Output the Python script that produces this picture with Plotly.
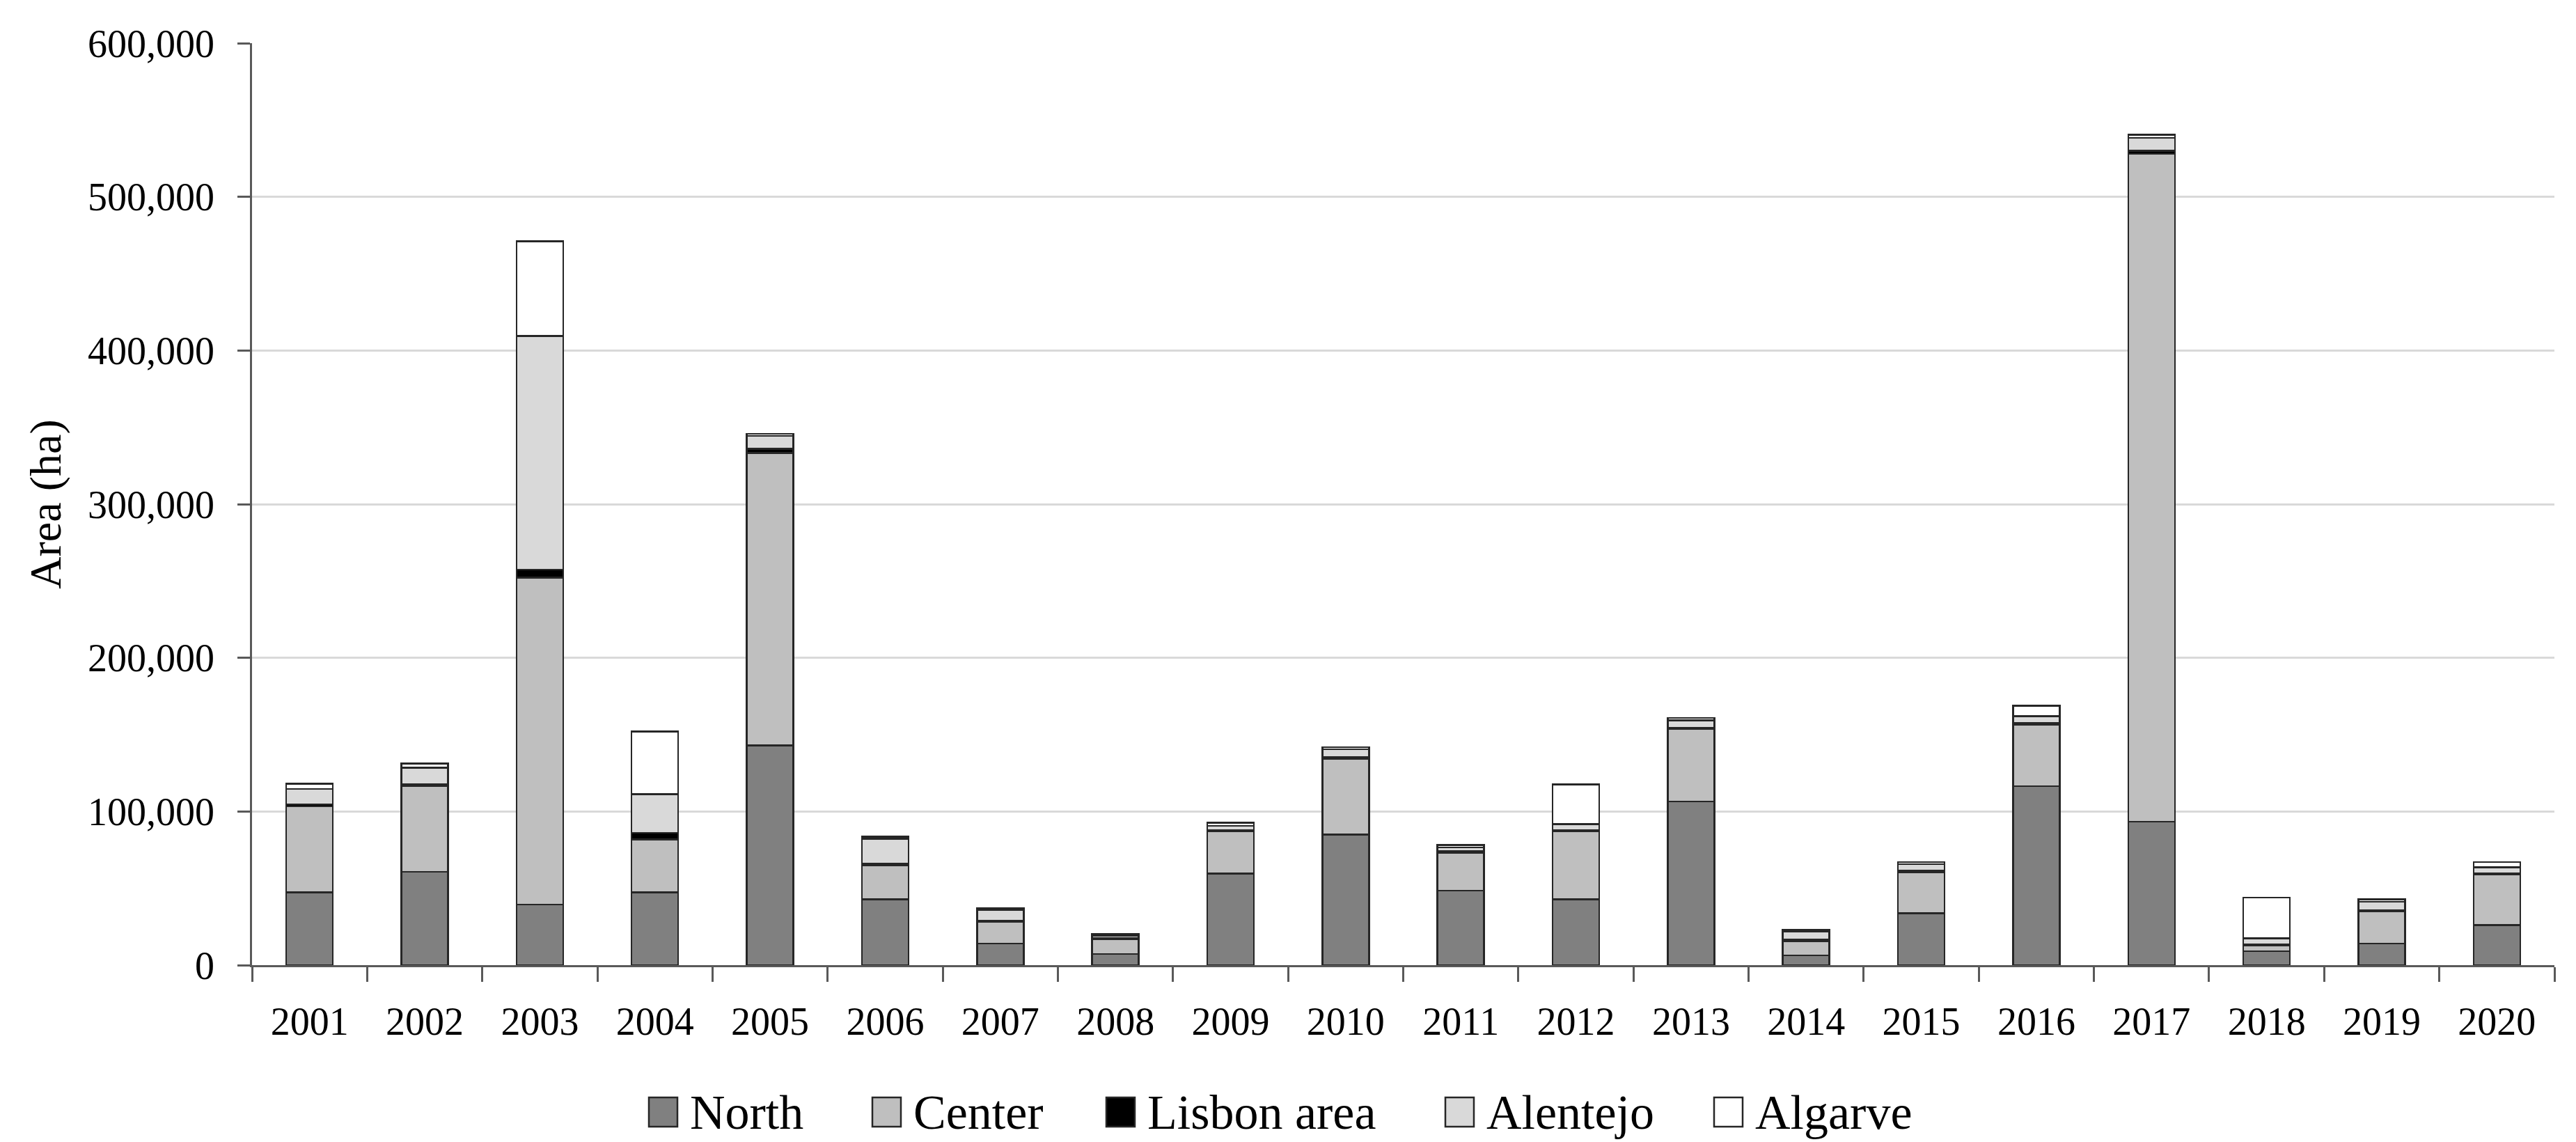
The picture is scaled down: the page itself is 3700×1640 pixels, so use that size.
import plotly.graph_objects as go

years = [str(y) for y in range(2001, 2021)]

north    = [47300, 60700, 39500, 47300, 142900, 42800, 14000, 7300, 59500, 85000,
            48600, 42800, 106500, 6400, 33700, 116500, 93300, 9100, 14000, 26100]
center   = [56000, 56100, 212800, 34600, 190300, 22000, 14100, 9400, 27800, 49300,
            24500, 44100, 47100, 9100, 26700, 39800, 434700, 3800, 21200, 33100]
lisbon   = [1400, 1000, 5200, 4300, 2900, 1200, 800, 800, 700, 1100,
            900, 1100, 900, 1000, 1000, 1200, 2000, 800, 500, 600]
alentejo = [9900, 10700, 152000, 25000, 8400, 16200, 7200, 1800, 2600, 5000,
            2600, 3800, 4800, 5500, 4200, 4600, 8300, 3800, 5600, 3800]
algarve  = [3400, 2800, 61500, 40800, 1300, 1300, 1100, 1200, 2000, 1500,
            1500, 25800, 1500, 1100, 1500, 6600, 2200, 26500, 1500, 3500]

series_names = ["North", "Center", "Lisbon area", "Alentejo", "Algarve"]
series_values = [north, center, lisbon, alentejo, algarve]
series_colors = ["#808080", "#bfbfbf", "#000000", "#d9d9d9", "#ffffff"]

y_ticks = [0, 100000, 200000, 300000, 400000, 500000, 600000]

FONT = "Liberation Serif"
W, H = 3700, 1640
ML, MR, MT, MB = 354, 39, 54, 262
PW, PH = W - ML - MR, H - MT - MB

fig = go.Figure()
for name, vals, col in zip(series_names, series_values, series_colors):
    fig.add_trace(go.Bar(
        x=years, y=vals, name=name,
        marker=dict(color=col, line=dict(color="#262626", width=2.5)),
        showlegend=False,
    ))

# legend drawn as boxes + labels below the plot (positions in pixels -> paper)
def px_to_paper_x(px):
    return (px - ML) / PW

def px_to_paper_y(py):
    return (H - MB - py) / PH

legend_left_px = [924, 1245, 1581, 2068, 2454]
box_w, box_top, box_bot = 41, 1568, 1610
shapes = []
annotations = []
for name, col, lx in zip(series_names, series_colors, legend_left_px):
    shapes.append(dict(
        type="rect", xref="paper", yref="paper",
        x0=px_to_paper_x(lx), x1=px_to_paper_x(lx + box_w),
        y0=px_to_paper_y(box_bot), y1=px_to_paper_y(box_top),
        fillcolor=col, line=dict(color="#262626", width=2.5),
    ))
    annotations.append(dict(
        xref="paper", yref="paper",
        x=px_to_paper_x(lx + box_w + 16), y=px_to_paper_y((box_top + box_bot) / 2),
        xanchor="left", yanchor="middle",
        text=name, showarrow=False,
        font=dict(family=FONT, size=70, color="black"),
    ))

fig.update_layout(
    barmode="stack",
    bargap=0.595,
    width=W, height=H,
    margin=dict(l=ML, r=MR, t=MT, b=MB),
    paper_bgcolor="white",
    plot_bgcolor="white",
    font=dict(family=FONT, size=56, color="black"),
    showlegend=False,
    shapes=shapes,
    annotations=annotations,
)

fig.update_xaxes(
    type="category",
    showline=True, linecolor="#595959", linewidth=2.5,
    ticks="outside", tickson="boundaries", ticklen=21, tickwidth=2.5, tickcolor="#595959",
    ticklabelstandoff=30,
    tickfont=dict(family=FONT, size=56, color="black"),
    showgrid=False,
    zeroline=False,
)

fig.update_yaxes(
    range=[0, 600000],
    tickvals=y_ticks,
    tickformat=",d",
    showline=True, linecolor="#595959", linewidth=2.5,
    ticks="outside", ticklen=18, tickwidth=2.5, tickcolor="#595959",
    ticklabelstandoff=22,
    tickfont=dict(family=FONT, size=56, color="black"),
    showgrid=True, gridcolor="#d9d9d9", gridwidth=3,
    zeroline=False,
    title=dict(text="Area (ha)", font=dict(family=FONT, size=64, color="black"), standoff=18),
)

fig.write_html("out.html")
